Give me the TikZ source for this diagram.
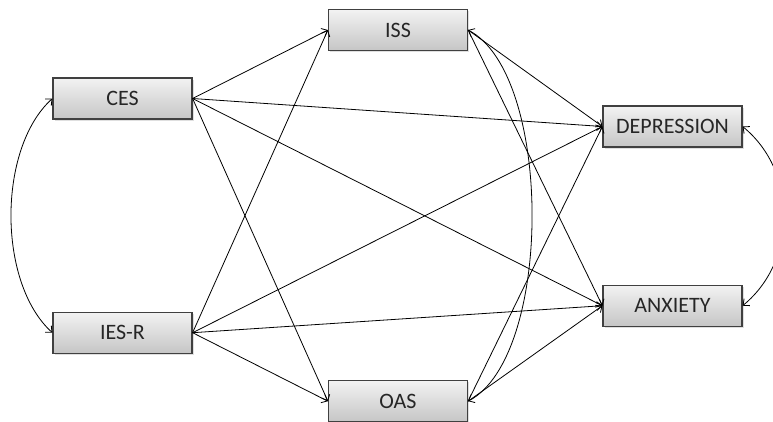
\documentclass[tikz,border=0pt]{standalone}
\usepackage{fontspec}
\setmainfont{Carlito}
\usetikzlibrary{positioning,shadows,arrows.meta}

\begin{document}
\begin{tikzpicture}[x=1pt,y=-1pt,
    construct/.style={rectangle, draw=black!75, line width=1.2pt, top color=gray!10, bottom color=gray!45,
      text=black!85, minimum width=139pt, minimum height=41pt, inner sep=0pt,
      font=\fontsize{22}{26}\selectfont,
      drop shadow={shadow xshift=1.5pt, shadow yshift=-1.5pt, opacity=0.25}},
    path/.style={line width=0.8pt},
    >={Straight Barb[length=5pt,width=9pt]}]
    \useasboundingbox (0,0) rectangle (773,421);

    \node[construct] (CES) at (122.5,98.5) {CES};
    \node[construct] (IESR) [below=192pt of CES] {IES-R};
    \node[construct] (ISS) at (398,30) {ISS};
    \node[construct] (OAS) [below=329pt of ISS] {OAS};
    \node[construct] (Depression) at (672.5,126.5) {DEPRESSION};
    \node[construct] (Anxiety) [below=137pt of Depression] {ANXIETY};

    \foreach \source in {CES,IESR}
      \foreach \target in {ISS,OAS,Depression,Anxiety}
        \draw[->,path] (\source.east) to (\target.west);
    \foreach \source in {ISS,OAS}
      \foreach \target in {Depression,Anxiety}
        \draw[->,path] (\source.east) to (\target.west);

    \draw[<->,path] (ISS.east) .. controls +(85,45) and +(85,-45) .. (OAS.east);
    \draw[<->,path] (CES.west) .. controls +(-55,50) and +(-55,-50) .. (IESR.west);
    \draw[<->,path] (Depression.east) .. controls +(55,45) and +(55,-45) .. (Anxiety.east);
\end{tikzpicture}
\end{document}
